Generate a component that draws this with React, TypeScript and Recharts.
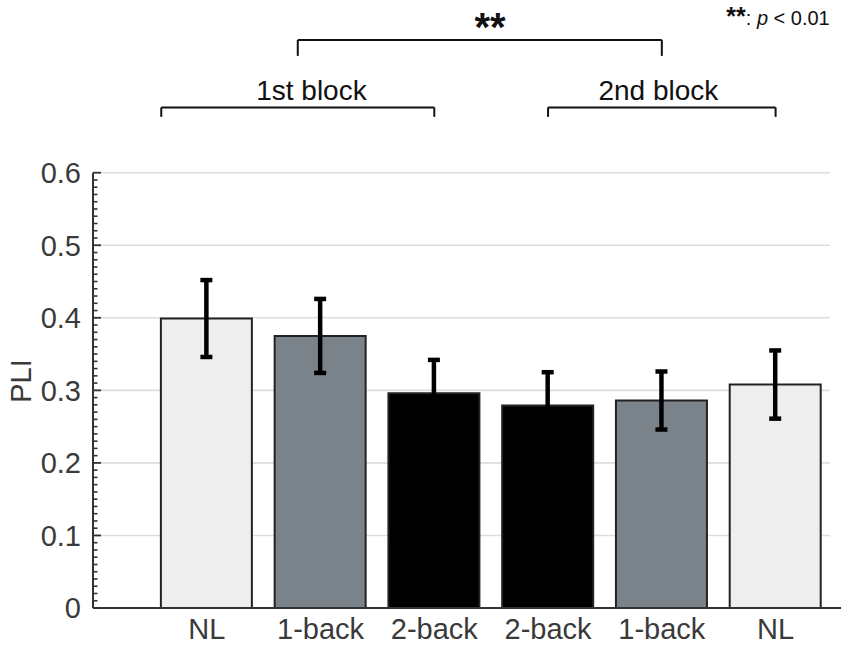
import React from 'react';
import {
  ComposedChart,
  Bar,
  Cell,
  ErrorBar,
  XAxis,
  YAxis,
  CartesianGrid,
  ReferenceLine,
  ReferenceDot
} from 'recharts';

// bar order, left to right
const conditions = ['NL', '1-back', '2-back', '2-back', '1-back', 'NL'];
const positions = [1, 2, 3, 4, 5, 6];
const pliMean = [0.399, 0.375, 0.296, 0.279, 0.286, 0.308];
const pliSem = [0.053, 0.051, 0.046, 0.046, 0.040, 0.047];

const majorTicks = [0, 0.1, 0.2, 0.3, 0.4, 0.5, 0.6];
const majorLabels = ['0', '0.1', '0.2', '0.3', '0.4', '0.5', '0.6'];

// minor ticks every 0.01 between the labelled ones
const yTicks: number[] = [];
for (let i = 0; i <= 60; i++) yTicks.push(i / 100);

const conditionColor: Record<string, string> = {
  NL: '#eeeeee',
  '1-back': '#7b838a',
  '2-back': '#000000'
};

const data = conditions.map((name, i) => ({
  pos: positions[i],
  name,
  mean: pliMean[i],
  sem: pliSem[i]
}));

const FONT = '"Liberation Sans", Arial, Helvetica, sans-serif';

const YTick = (props: any) => {
  const { x, y, payload } = props;
  const v = payload.value as number;
  const idx = majorTicks.findIndex(t => Math.abs(t - v) < 1e-6);
  const axisX = x + 12;
  if (idx < 0) {
    return <line x1={axisX} x2={axisX + 4.5} y1={y} y2={y} stroke="#333" strokeWidth={1.6} />;
  }
  return (
    <g>
      <line x1={axisX} x2={axisX + 8} y1={y} y2={y} stroke="#333" strokeWidth={1.8} />
      <text x={x} y={y} dy="0.36em" textAnchor="end" fontSize={29} fill="#3a3a3a" fontFamily={FONT}>
        {majorLabels[idx]}
      </text>
    </g>
  );
};

const YLabel = () => (
  <text
    x={31}
    y={381}
    transform="rotate(-90, 31, 381)"
    textAnchor="middle"
    fontSize={29}
    fill="#3a3a3a"
    fontFamily={FONT}
  >
    PLI
  </text>
);

const textShape = (value: string, size: number, bold = false) => (p: any) => (
  <text
    x={p.cx}
    y={p.cy}
    textAnchor="middle"
    fontSize={size}
    fontWeight={bold ? 'bold' : 'normal'}
    fill="#111"
    fontFamily={FONT}
  >
    {value}
  </text>
);

const pShape = (p: any) => (
  <text x={p.cx} y={p.cy} textAnchor="end" fontSize={20} fill="#111" fontFamily={FONT}>
    <tspan fontWeight="bold" fontSize={25}>**</tspan>
    <tspan>: </tspan>
    <tspan fontStyle="italic">p</tspan>
    <tspan> &lt; 0.01</tspan>
  </text>
);

// brackets in data coordinates: [xLeft, xRight, yLine, yTickEnd]
const brackets = [
  [0.6, 3.0, 0.69, 0.677],
  [4.0, 6.0, 0.69, 0.677],
  [1.8, 5.0, 0.783, 0.761]
];

const gridLine = (p: any) => {
  if (Math.abs(p.y1 - 608) < 2) return <g />;
  return <line x1={p.x1} x2={p.x2 - 11} y1={p.y1} y2={p.y2} stroke="#dddddd" strokeWidth={1.6} />;
};

export default function App() {
  return (
    <div style={{ position: 'absolute', left: 0, top: 0, background: '#fff' }}>
      <ComposedChart
        width={850}
        height={649}
        data={data}
        margin={{ top: 172.7, right: 9, left: 0, bottom: 0 }}
      >
        <CartesianGrid vertical={false} horizontal={gridLine} horizontalValues={majorTicks} />
        <XAxis
          dataKey="pos"
          type="number"
          domain={[0, 6.575]}
          ticks={positions}
          tickFormatter={(v: number) => conditions[v - 1]}
          interval={0}
          height={41}
          tickLine={false}
          tickSize={0}
          tickMargin={10}
          axisLine={{ stroke: '#333', strokeWidth: 2 }}
          tick={{ fontSize: 29, fill: '#3a3a3a', fontFamily: FONT }}
        />
        <YAxis
          type="number"
          domain={[0, 0.6]}
          ticks={yTicks}
          interval={0}
          width={93}
          tickLine={false}
          tickSize={0}
          tickMargin={12}
          axisLine={{ stroke: '#333', strokeWidth: 2 }}
          tick={<YTick />}
          label={<YLabel />}
        />
        <Bar dataKey="mean" barSize={91} isAnimationActive={false} stroke="#222" strokeWidth={2}>
          {data.map((d, i) => (
            <Cell key={i} fill={conditionColor[d.name]} />
          ))}
          <ErrorBar dataKey="sem" width={6} stroke="#000" strokeWidth={4.5} isAnimationActive={false} />
        </Bar>
        {brackets.map(([x1, x2, y, yEnd], i) => (
          <React.Fragment key={i}>
            <ReferenceLine segment={[{ x: x1, y }, { x: x2, y }]} stroke="#111" strokeWidth={2} ifOverflow="visible" />
            <ReferenceLine segment={[{ x: x1, y }, { x: x1, y: yEnd }]} stroke="#111" strokeWidth={2} ifOverflow="visible" />
            <ReferenceLine segment={[{ x: x2, y }, { x: x2, y: yEnd }]} stroke="#111" strokeWidth={2} ifOverflow="visible" />
          </React.Fragment>
        ))}
        <ReferenceDot x={1.92} y={0.7} r={0} ifOverflow="visible" shape={textShape('1st block', 28)} />
        <ReferenceDot x={4.97} y={0.7} r={0} ifOverflow="visible" shape={textShape('2nd block', 28)} />
        <ReferenceDot x={3.49} y={0.781} r={0} ifOverflow="visible" shape={textShape('**', 40, true)} />
        <ReferenceDot x={6.476} y={0.804} r={0} ifOverflow="visible" shape={pShape} />
      </ComposedChart>
    </div>
  );
}
